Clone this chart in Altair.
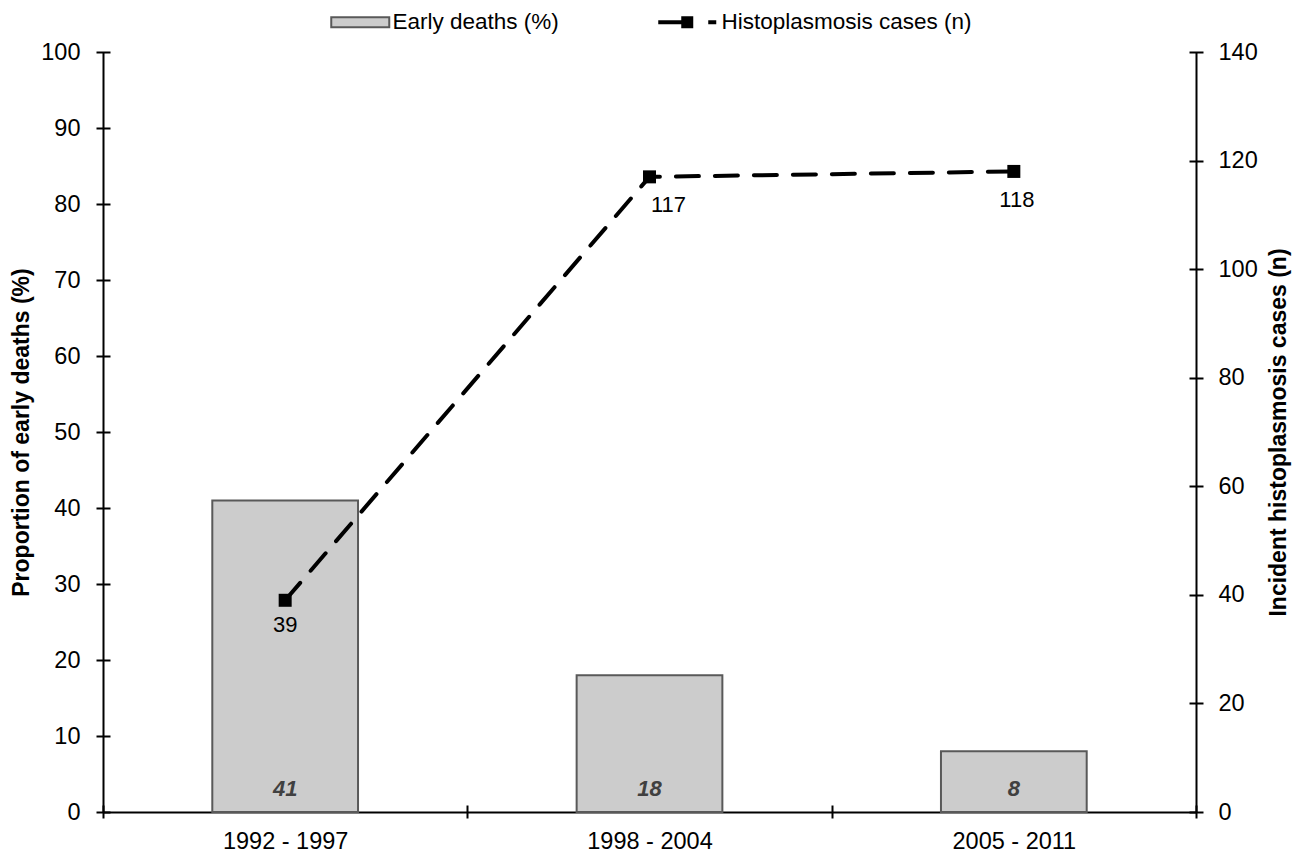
import altair as alt
import pandas as pd

periods = ["1992 - 1997", "1998 - 2004", "2005 - 2011"]
early_deaths = [41, 18, 8]
cases = [39, 117, 118]
left_ticks = [0, 10, 20, 30, 40, 50, 60, 70, 80, 90, 100]
right_ticks = [0, 20, 40, 60, 80, 100, 120, 140]

FONT = "Liberation Sans"
TICK_FS = 23.5

df = pd.DataFrame({
    "period": periods,
    "deaths": early_deaths,
    "cases": cases,
    "s1": ["Early deaths (%)"] * 3,
    "s2": ["Histoplasmosis cases (n)"] * 3,
})

x_enc = alt.X(
    "period:N",
    sort=periods,
    scale=alt.Scale(paddingInner=0, paddingOuter=0),
    axis=alt.Axis(
        title=None, labelAngle=0, domain=False, offset=-7, tickSize=13,
        tickBand="extent", tickWidth=2, tickColor="black", labelPadding=11,
        labelFontSize=TICK_FS, labelFont=FONT, labelColor="black",
        grid=True, gridColor="black", gridWidth=2,
        gridOpacity={"condition": {"test": "datum.index === 1 || datum.index === -1", "value": 1}, "value": 0},
    ),
)

y_left = alt.Y(
    "deaths:Q",
    scale=alt.Scale(domain=[0, 100], nice=False),
    axis=alt.Axis(
        title="Proportion of early deaths (%)", values=left_ticks, orient="left",
        domain=False, offset=-7, tickSize=14, tickWidth=2, tickColor="black",
        labelPadding=16, labelFontSize=TICK_FS, labelFont=FONT, labelColor="black",
        titleFont=FONT, titleFontSize=23, titleFontWeight="bold", titleColor="black",
        titlePadding=7,
        grid=True, gridColor="black", gridWidth=2,
        gridOpacity={"condition": {"test": "datum.value === 0", "value": 1}, "value": 0},
    ),
)

# legend symbols: unit = 10 px (symbolSize 400 -> 20 px slot)
rect_path = "M-2.9,-0.5H2.9V0.5H-2.9Z"
line_path = ("M-2.9,-0.2H-0.6V0.2H-2.9Z "
             "M-0.6,-0.6H0.6V0.6H-0.6Z "
             "M2.1,-0.2H2.9V0.2H2.1Z")

bars = alt.Chart(df).mark_bar(
    width={"band": 0.4}, stroke="#595959", strokeWidth=2
).encode(
    x=x_enc,
    y=y_left,
    color=alt.Color(
        "s1:N",
        scale=alt.Scale(domain=["Early deaths (%)"], range=["#cccccc"]),
        legend=alt.Legend(
            title=None, orient="none", legendX=246, legendY=-41,
            symbolType=rect_path, symbolSize=400, symbolStrokeColor="#595959",
            symbolStrokeWidth=2, symbolOpacity=1, labelFont=FONT, labelFontSize=22.5,
            labelColor="black", labelOffset=21, labelLimit=400, padding=0,
        ),
    ),
)

bar_text = alt.Chart(df).mark_text(
    font=FONT, fontSize=22, fontStyle="italic", fontWeight="bold",
    color="#404040", baseline="middle", dy=-23
).encode(
    x=alt.X("period:N", sort=periods),
    y=alt.datum(0),
    text=alt.Text("deaths:Q"),
)

left_layer = alt.layer(bars, bar_text)

y_right_scale = alt.Scale(domain=[0, 140], nice=False)
y_right = alt.Y(
    "cases:Q",
    scale=y_right_scale,
    axis=alt.Axis(
        title="Incident histoplasmosis cases (n)", values=right_ticks, orient="right",
        domain=False, offset=-7, tickSize=14, tickWidth=2, tickColor="black",
        labelPadding=15, labelFontSize=TICK_FS, labelFont=FONT, labelColor="black",
        titleFont=FONT, titleFontSize=23, titleFontWeight="bold", titleColor="black",
        titleAngle=270, titleBaseline="top", titlePadding=10, grid=False,
    ),
)

line = alt.Chart(df).mark_line(
    color="black", strokeWidth=4, strokeDash=[23, 16], strokeCap="round"
).encode(
    x=alt.X("period:N", sort=periods),
    y=y_right,
)

points = alt.Chart(df).mark_point(
    filled=True, shape="square", size=169, opacity=1
).encode(
    x=alt.X("period:N", sort=periods),
    y=alt.Y("cases:Q", scale=y_right_scale),
    color=alt.Color(
        "s2:N",
        scale=alt.Scale(domain=["Histoplasmosis cases (n)"], range=["black"]),
        legend=alt.Legend(
            title=None, orient="none", legendX=573, legendY=-41,
            symbolType=line_path, symbolSize=400, symbolStrokeWidth=0,
            symbolFillColor="black", symbolOpacity=1,
            labelFont=FONT, labelFontSize=22.5, labelColor="black",
            labelOffset=23, labelLimit=400, padding=0,
        ),
    ),
)

label_offsets = {
    "1992 - 1997": (0, 25),
    "1998 - 2004": (19, 28),
    "2005 - 2011": (3, 29),
}
label_layers = []
for p in periods:
    dx, dy = label_offsets[p]
    label_layers.append(
        alt.Chart(df).transform_filter(alt.datum.period == p).mark_text(
            font=FONT, fontSize=22, color="black", baseline="middle", dx=dx, dy=dy
        ).encode(
            x=alt.X("period:N", sort=periods),
            y=alt.Y("cases:Q", scale=y_right_scale),
            text=alt.Text("cases:Q"),
        )
    )

right_layer = alt.layer(line, points, *label_layers)

chart = alt.layer(left_layer, right_layer).resolve_scale(
    y="independent", color="independent"
).properties(
    width=1093, height=760,
    autosize=alt.AutoSizeParams(type="none"),
    padding={"left": 95, "top": 44, "right": 96, "bottom": 42},
    background="white",
).configure_view(stroke=None)

chart.save("out.html", embed_options={"renderer": "svg", "actions": False})
